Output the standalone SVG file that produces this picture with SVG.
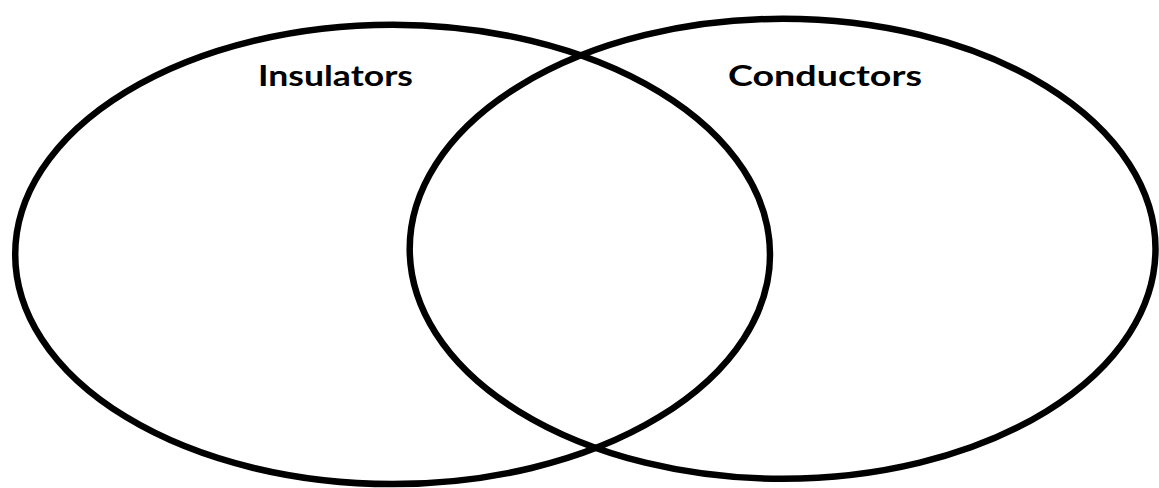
<svg xmlns="http://www.w3.org/2000/svg" width="1159" height="488" viewBox="0 0 1159 488">
<style>
.set{fill:none;stroke:#000;stroke-width:6.5}
.lbl{font-family:Lato,"Liberation Sans",sans-serif;font-weight:bold;font-size:29px;fill:#000}
</style>
<rect width="1159" height="488" fill="#fff"/>
<g id="insulators">
<ellipse class="set" cx="392.6" cy="254.4" rx="377.4" ry="229.7"/>
<text class="lbl" x="258" y="86" textLength="155" lengthAdjust="spacingAndGlyphs">Insulators</text>
</g>
<g id="conductors">
<ellipse class="set" cx="782.6" cy="248.8" rx="372.9" ry="230"/>
<text class="lbl" x="728" y="86" textLength="194" lengthAdjust="spacingAndGlyphs">Conductors</text>
</g>
<g id="connectors"/>
</svg>
